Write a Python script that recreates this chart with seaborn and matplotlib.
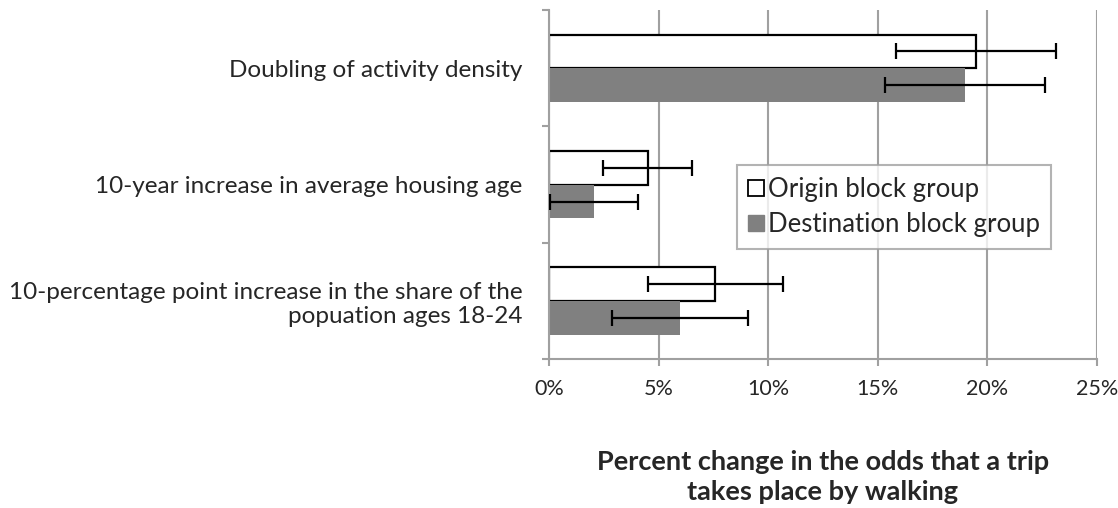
import pandas as pd
import matplotlib
matplotlib.use("Agg")
import matplotlib.pyplot as plt
from matplotlib.lines import Line2D
import seaborn as sns

# values (percent)
categories = [
    "Doubling of activity density",
    "10-year increase in average housing age",
    "10-percentage point increase in the share of the\npopuation ages 18-24",
]
series = ["Origin block group", "Destination block group"]
origin_vals = [19.5, 4.5, 7.6]
origin_err = [3.65, 2.05, 3.1]
dest_vals = [19.0, 2.05, 6.0]
dest_err = [3.65, 2.0, 3.1]
xticks = [0, 5, 10, 15, 20, 25]

df = pd.DataFrame({
    "category": categories * 2,
    "group": [series[0]] * 3 + [series[1]] * 3,
    "value": origin_vals + dest_vals,
})

sns.set_theme(style="white")
plt.rcParams["font.family"] = ["Lato", "DejaVu Sans"]

fig = plt.figure(figsize=(11.18, 5.08), dpi=100)
ax = fig.add_axes([0.491, 0.293, 0.490, 0.687])

grid_col = "#a0a0a0"
ax.set_axisbelow(True)
for t in xticks:
    ax.axvline(t, color=grid_col, lw=1.5, zorder=0)

sns.barplot(data=df, x="value", y="category", hue="group", order=categories,
            hue_order=series, palette=["white", "#808080"], orient="h",
            width=0.58, gap=0, dodge=True, legend=False, ax=ax, zorder=2)

# style bars and add error bars from the library's bar geometry
for cont, errs, edge in zip(ax.containers, [origin_err, dest_err], ["black", "#808080"]):
    for bar, e in zip(cont, errs):
        bar.set_edgecolor(edge)
        bar.set_linewidth(1.6 if edge == "black" else 0)
        yc = bar.get_y() + bar.get_height() / 2
        ax.errorbar(bar.get_width(), yc, xerr=e, fmt="none", ecolor="black",
                    elinewidth=1.6, capsize=6, capthick=1.6, zorder=3)

ax.set_xlim(0, 25)
ax.set_ylim(2.5, -0.5)
ax.set_xticks(xticks)
ax.set_xticklabels([f"{t}%" for t in xticks], fontsize=15.5)
ax.set_yticks([-0.5, 0.5, 1.5, 2.5])
ax.set_yticklabels([])
ax.set_yticks(range(len(categories)), minor=True)
ax.set_yticklabels(categories, minor=True, fontsize=17.5)
ax.tick_params(axis="y", which="minor", length=0, pad=19)
ax.tick_params(axis="y", which="major", length=5, width=1.5, color=grid_col, direction="out", left=True)
ax.tick_params(axis="x", length=5, width=1.5, color=grid_col, direction="out", bottom=True, pad=9)

for side in ["top", "right"]:
    ax.spines[side].set_visible(False)
for side in ["left", "bottom"]:
    ax.spines[side].set_color(grid_col)
    ax.spines[side].set_linewidth(1.5)

ax.set_ylabel("")
ax.set_xlabel("Percent change in the odds that a trip\ntakes place by walking",
              fontsize=19.5, fontweight="bold", labelpad=37, linespacing=1.3)

handles = [
    Line2D([], [], marker="s", linestyle="none", markersize=12,
           markerfacecolor="white", markeredgecolor="black", markeredgewidth=1.3),
    Line2D([], [], marker="s", linestyle="none", markersize=12,
           markerfacecolor="#808080", markeredgecolor="#808080"),
]
leg = ax.legend(handles, series, loc="upper left", bbox_to_anchor=(0.343, 0.556),
                fontsize=18.5, frameon=True, fancybox=False, handlelength=0.6,
                handletextpad=0.15, borderpad=0.45, labelspacing=0.4, borderaxespad=0)
leg.get_frame().set_edgecolor(grid_col)
leg.get_frame().set_linewidth(1.5)

fig.savefig("out.png", dpi=100)
